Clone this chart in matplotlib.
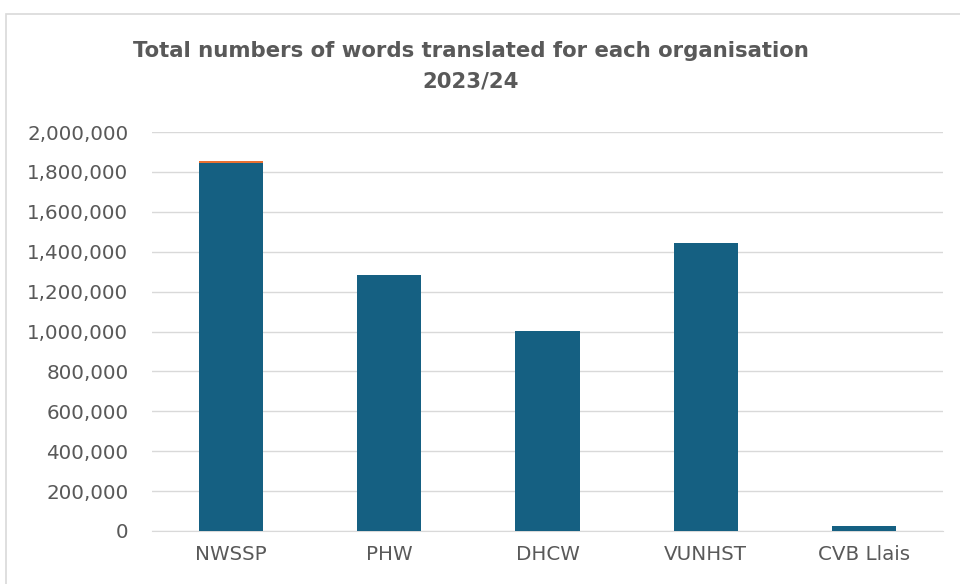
import matplotlib
matplotlib.use("Agg")
import matplotlib.pyplot as plt
from matplotlib.patches import Rectangle
from matplotlib.ticker import FuncFormatter, MultipleLocator

categories = ["NWSSP", "PHW", "DHCW", "VUNHST", "CVB Llais"]
series_main = [1843000, 1283000, 1002000, 1443000, 26000]
series_extra = [10000, 0, 0, 0, 0]
title_lines = ["Total numbers of words translated for each organisation", "2023/24"]

W, H = 960, 584
fig = plt.figure(figsize=(W/100, H/100), dpi=100)
fig.patches.append(Rectangle((5.5/W, -0.01), 1.0, 1 - 13.5/H + 0.01, transform=fig.transFigure,
                             fill=False, edgecolor="#d9d9d9", linewidth=1.2))
ax = fig.add_axes([152/W, (H-531)/H, (943-152)/W, (531-132)/H])
x = range(len(categories))
ax.bar(x, series_main, width=0.405, color="#156082", zorder=3)
ax.bar(x, series_extra, bottom=series_main, width=0.405, color="#E97132", zorder=3)
ax.set_xlim(-0.5, 4.5)
ax.set_ylim(0, 2000000)
ax.yaxis.set_major_locator(MultipleLocator(200000))
ax.yaxis.set_major_formatter(FuncFormatter(lambda v, p: f"{int(v):,}"))
ax.grid(axis="y", color="#d9d9d9", linewidth=1, zorder=0)
for s in ["top", "right", "left"]:
    ax.spines[s].set_visible(False)
ax.spines["bottom"].set_color("#d9d9d9")
ax.tick_params(length=0, labelsize=14.3, labelcolor="#595959")
ax.tick_params(axis="y", pad=17)
ax.tick_params(axis="x", pad=10)
ax.set_xticks(list(x))
ax.set_xticklabels(categories)
for lab in ax.get_xticklabels() + ax.get_yticklabels():
    lab.set_fontfamily("DejaVu Sans")
fig.text(471/W, 1 - 57/H, title_lines[0], ha="center", va="baseline", fontsize=15.3,
         fontweight="bold", color="#595959", family="DejaVu Sans")
fig.text(471/W, 1 - 88/H, title_lines[1], ha="center", va="baseline", fontsize=15.3,
         fontweight="bold", color="#595959", family="DejaVu Sans")
fig.savefig("out.png", dpi=100)
